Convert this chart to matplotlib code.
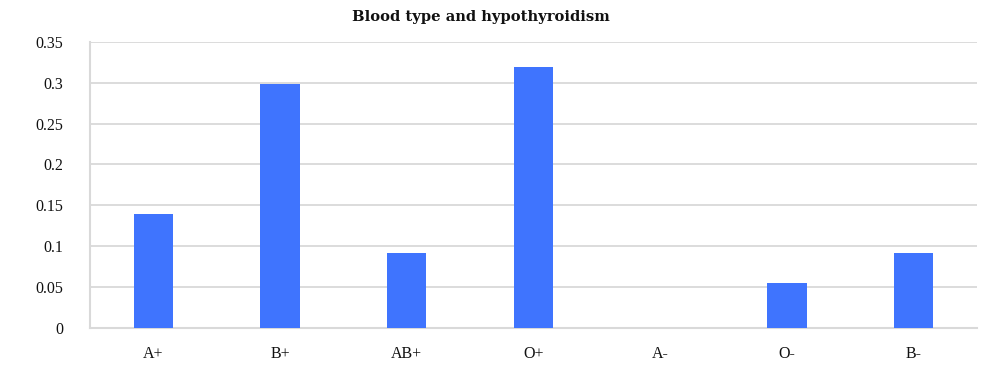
import matplotlib
matplotlib.use("Agg")
import matplotlib.pyplot as plt

# ---------- Data ----------
blood_types = ["A+", "B+", "AB+", "O+", "A-", "O-", "B-"]
ratios = [0.139, 0.299, 0.092, 0.32, 0.0, 0.055, 0.092]
y_ticks = [0, 0.05, 0.1, 0.15, 0.2, 0.25, 0.3, 0.35]
y_tick_labels = ["0", "0.05", "0.1", "0.15", "0.2", "0.25", "0.3", "0.35"]

BAR_COLOR = "#3f74fe"
GRID_COLOR = "#d9d9d9"

# ---------- Plot ----------
fig = plt.figure(figsize=(10, 3.67), dpi=100)
ax = fig.add_axes([0.09, 0.107, 0.887, 0.7785])

x = range(len(blood_types))
ax.bar(x, ratios, width=0.31, color=BAR_COLOR, linewidth=0, zorder=3)

ax.set_xlim(-0.5, len(blood_types) - 0.5)
ax.set_ylim(0, 0.35)
ax.set_yticks(y_ticks)
ax.set_yticklabels(y_tick_labels)
ax.set_xticks(list(x))
ax.set_xticklabels(blood_types)

# Grid + Spines
ax.grid(axis="y", color=GRID_COLOR, linewidth=1.3, zorder=0)
for side in ["top", "right"]:
    ax.spines[side].set_visible(False)
for side in ["left", "bottom"]:
    ax.spines[side].set_color(GRID_COLOR)
    ax.spines[side].set_linewidth(1.5)

ax.tick_params(axis="both", length=0, labelsize=11.5, colors="#111111")
ax.tick_params(axis="y", pad=19)
ax.tick_params(axis="x", pad=13)
for lbl in ax.get_xticklabels() + ax.get_yticklabels():
    lbl.set_fontfamily("Liberation Serif")

fig.text(0.481, 0.955, "Blood type and hypothyroidism", ha="center", va="center",
         fontsize=10.6, fontweight="bold", fontfamily="DejaVu Serif", color="#111111")

fig.savefig("out.png", dpi=100)
